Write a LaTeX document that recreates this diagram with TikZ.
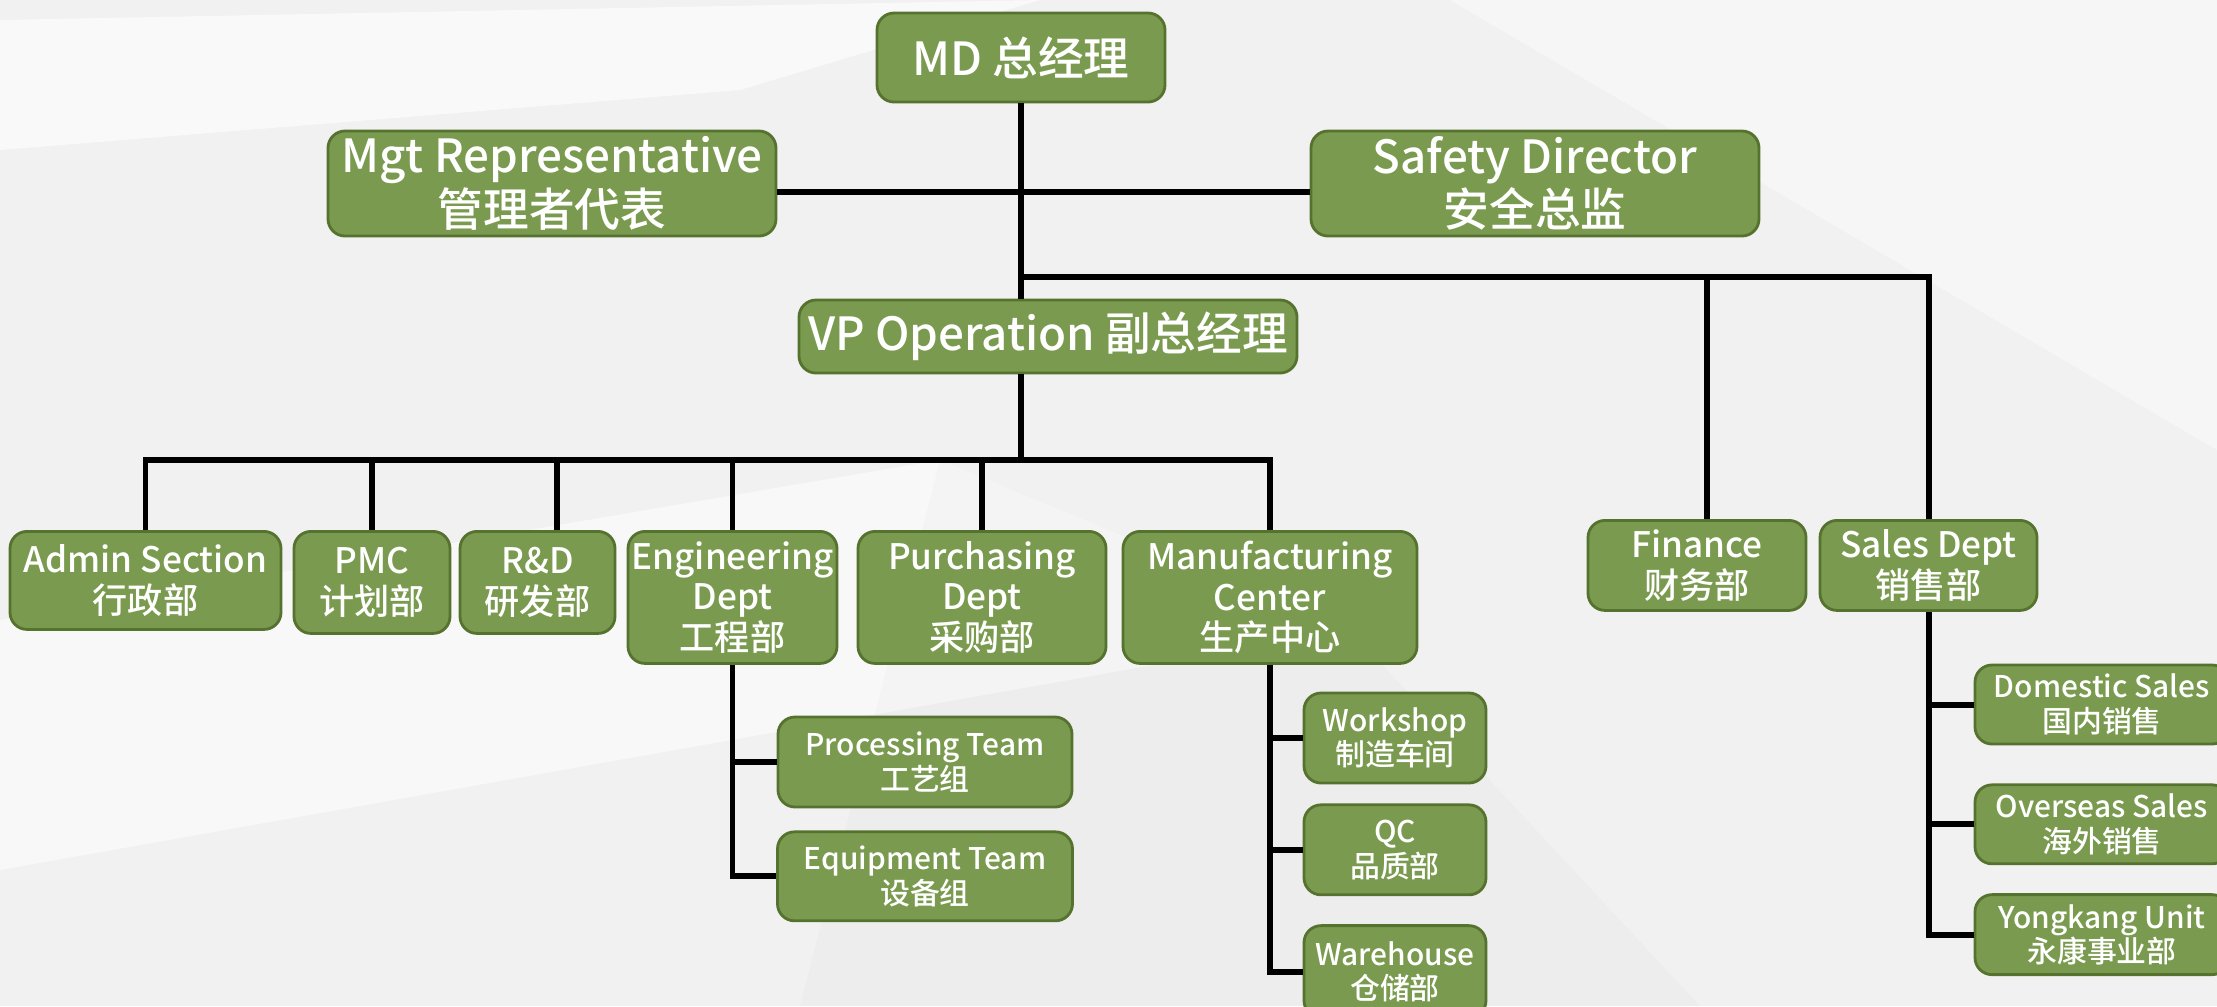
\documentclass[tikz,border=0pt]{standalone}
\usepackage{fontspec}
\setmainfont{Noto Sans CJK SC Medium}
\usepackage{tikz}
\usetikzlibrary{positioning, calc}
\definecolor{boxgreen}{HTML}{7A9B4F}
\definecolor{boxedge}{HTML}{56722F}
\definecolor{bggray}{HTML}{F1F1F1}

\begin{document}
\begin{tikzpicture}[
    box/.style = {rectangle, draw=boxedge, fill=boxgreen, line width=0.8pt, rounded corners=0.17cm, text=white, align=center, inner sep=1pt},
    head/.style = {box, font=\fontsize{13}{14}\selectfont},
    dept/.style = {box, font=\fontsize{10}{11.5}\selectfont},
    team/.style = {box, font=\fontsize{8.5}{9.8}\selectfont},
    link/.style = {line width=1.7pt, black}
]

% Background
\useasboundingbox (0,0) rectangle (22.17,-10.06);
\clip (0,0) rectangle (22.17,-10.06);
\fill[bggray] (0,0) rectangle (22.17,-10.06);
\fill[white, opacity=0.6] (0,-0.2) -- (10.4,0) -- (7.4,-0.9) -- (0,-1.5) -- cycle;
\fill[white, opacity=0.5] (0,-6.2) -- (9.4,-4.6) -- (13.5,-6.3) -- (0,-8.7) -- cycle;
\fill[white, opacity=0.4] (14.5,0) -- (22.17,0) -- (22.17,-4.5) -- cycle;
\fill[black, opacity=0.015] (9.4,-4.6) -- (13.5,-6.3) -- (17,-10.06) -- (8,-10.06) -- cycle;

% Top level
\node[head, minimum width=2.88cm, minimum height=0.89cm] (md) at (10.21,-0.575) {MD 总经理};
\node[head, minimum width=4.48cm, minimum height=1.05cm] (mgt) at (5.52,-1.835) {Mgt Representative\\管理者代表};
\node[head, minimum width=4.48cm, minimum height=1.05cm] (safety) at (15.35,-1.835) {Safety Director\\安全总监};
\node[head, minimum width=4.98cm, minimum height=0.73cm] (vp) at (10.48,-3.365) {VP Operation 副总经理};

% Departments
\node[dept, anchor=north, minimum width=2.71cm, minimum height=0.98cm] (admin) at (1.455,-5.30) {Admin Section\\行政部};
\node[dept, anchor=north, minimum width=1.56cm, minimum height=1.02cm] (pmc) at (3.72,-5.30) {PMC\\计划部};
\node[dept, anchor=north, minimum width=1.55cm, minimum height=1.02cm] (rd) at (5.375,-5.30) {R\&D\\研发部};
\node[dept, anchor=north, minimum width=2.09cm, minimum height=1.32cm] (eng) at (7.325,-5.30) {Engineering\\Dept\\工程部};
\node[dept, anchor=north, minimum width=2.48cm, minimum height=1.32cm] (purch) at (9.82,-5.30) {Purchasing\\Dept\\采购部};
\node[dept, anchor=north, minimum width=2.94cm, minimum height=1.32cm] (mfg) at (12.70,-5.30) {Manufacturing\\Center\\生产中心};
\node[dept, anchor=north, minimum width=2.18cm, minimum height=0.90cm] (finance) at (16.97,-5.19) {Finance\\财务部};
\node[dept, anchor=north, minimum width=2.17cm, minimum height=0.90cm] (sales) at (19.285,-5.19) {Sales Dept\\销售部};

% Teams
\node[team, minimum width=2.94cm, minimum height=0.90cm] (proc) at (9.25,-7.62) {Processing Team\\工艺组};
\node[team, minimum width=2.95cm, minimum height=0.89cm, below=0.22cm of proc] (equip) {Equipment Team\\设备组};
\node[team, minimum width=1.82cm, minimum height=0.90cm] (workshop) at (13.95,-7.38) {Workshop\\制造车间};
\node[team, minimum width=1.82cm, minimum height=0.90cm, below=0.19cm of workshop] (qc) {QC\\品质部};
\node[team, minimum width=1.82cm, minimum height=0.92cm, below=0.28cm of qc] (warehouse) {Warehouse\\仓储部};
\node[team, minimum width=2.54cm, minimum height=0.79cm] (domestic) at (21.02,-7.045) {Domestic Sales\\国内销售};
\node[team, minimum width=2.54cm, minimum height=0.79cm, below=0.38cm of domestic] (overseas) {Overseas Sales\\海外销售};
\node[team, minimum width=2.54cm, minimum height=0.80cm, below=0.28cm of overseas] (yongkang) {Yongkang Unit\\永康事业部};

% Connectors
\coordinate (finbus) at (10.21,-2.77);
\coordinate (opsbus) at (10.21,-4.60);
\coordinate (rdtop) at (5.57,-5.30);
\coordinate (fintop) at (17.07,-5.19);

\draw[link] (md.south) -- (md.south |- vp.north);
\draw[link] ($(mgt.east)+(0,-0.085)$) -- ($(safety.west)+(0,-0.085)$);
\draw[link] (finbus) -| (sales.north);
\draw[link] (fintop) -- (fintop |- finbus);

\draw[link] (md.south |- vp.south) -- (opsbus);
\draw[link] (admin.north) |- (opsbus) -| (mfg.north);
\foreach \n in {pmc, eng, purch}
  \draw[link] (\n.north) -- (\n.north |- opsbus);
\draw[link] (rdtop) -- (rdtop |- opsbus);

\draw[link] (eng.south) |- (equip.west);
\draw[link] (eng.south |- proc.west) -- (proc.west);
\draw[link] (mfg.south) |- (warehouse.west);
\draw[link] (mfg.south |- workshop.west) -- (workshop.west);
\draw[link] (mfg.south |- qc.west) -- (qc.west);
\draw[link] (sales.south) |- (yongkang.west);
\draw[link] (sales.south |- domestic.west) -- (domestic.west);
\draw[link] (sales.south |- overseas.west) -- (overseas.west);

\end{tikzpicture}
\end{document}
